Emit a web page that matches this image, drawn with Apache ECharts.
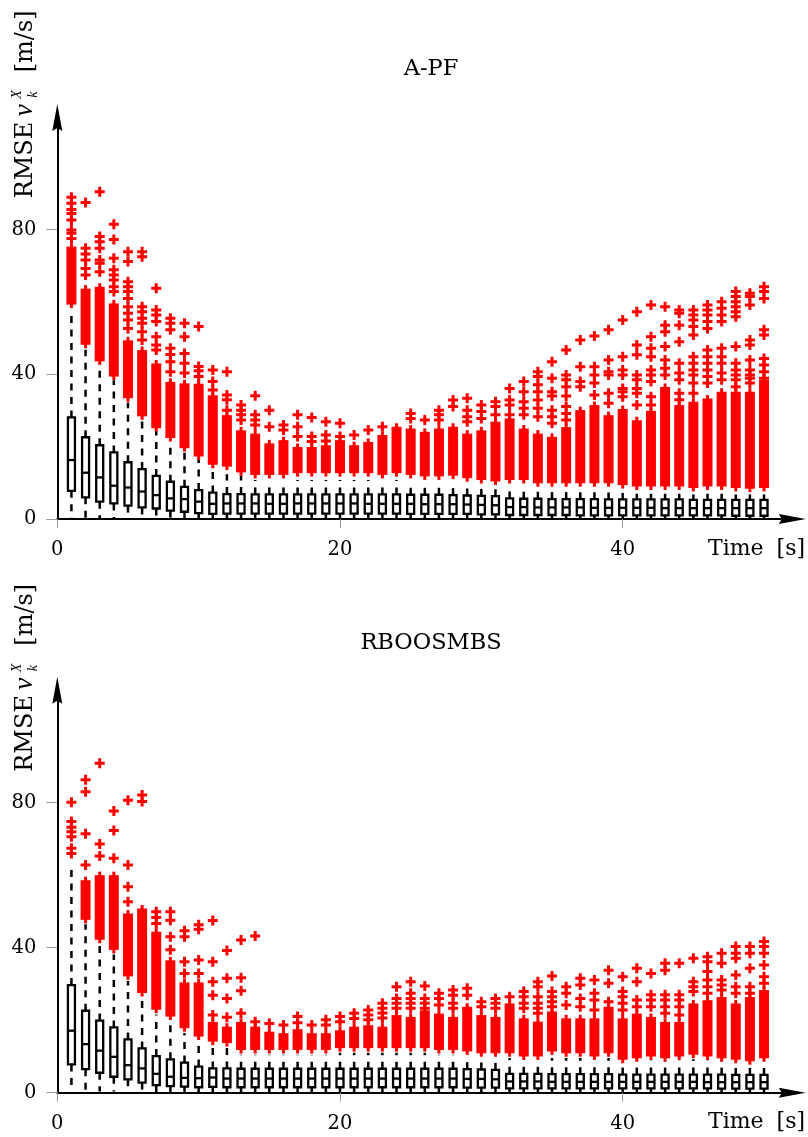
<!DOCTYPE html>
<html>
<head>
<meta charset="utf-8">
<title>RMSE v_k^X over time</title>
<script src="https://cdn.jsdelivr.net/npm/echarts@6.0.0/dist/echarts.min.js"></script>
<style>
  html, body { margin: 0; padding: 0; background: #ffffff; }
  #chart { width: 808px; height: 1137px; }
</style>
</head>
<body>
<div id="chart"></div>
<script>
// Time steps [s]
const timeSteps = [1, 2, 3, 4, 5, 6, 7, 8, 9, 10, 11, 12, 13, 14, 15, 16, 17, 18, 19, 20,
  21, 22, 23, 24, 25, 26, 27, 28, 29, 30, 31, 32, 33, 34, 35, 36, 37, 38, 39, 40,
  41, 42, 43, 44, 45, 46, 47, 48, 49, 50];
const xTicks = [0, 20, 40];
const yTicks = [0, 40, 80];
const panelTitles = ['A-PF', 'RBOOSMBS'];

// A-PF box statistics: [lower whisker, Q1, median, Q3, upper whisker]
const apfBoxes = [
  [0.3, 7.8, 16.3, 28.1, 57.5], [0.3, 6.0, 12.8, 22.6, 46.8], [0.3, 4.8, 11.5, 20.4, 42.3],
  [0.3, 4.3, 9.2, 18.4, 38.4], [0.3, 3.7, 8.7, 15.7, 32.2], [0.3, 3.2, 7.6, 13.8, 28.0],
  [0.2, 2.9, 6.6, 11.9, 24.2], [0.2, 2.3, 5.7, 10.3, 21.4], [0.2, 2.0, 5.5, 8.9, 18.6],
  [0.2, 1.6, 4.8, 8.0, 16.3], [0.2, 1.4, 4.2, 7.3, 14.0], [0.2, 1.5, 4.3, 6.9, 12.4],
  [0.2, 1.5, 4.3, 6.9, 11.9], [0.2, 1.5, 4.3, 6.8, 10.8], [0.2, 1.5, 4.2, 6.8, 10.3],
  [0.2, 1.5, 4.2, 6.8, 10.3], [0.2, 1.5, 4.3, 6.8, 10.8], [0.2, 1.5, 4.3, 6.8, 10.8],
  [0.2, 1.5, 4.3, 6.8, 10.8], [0.2, 1.5, 4.3, 6.8, 10.8], [0.2, 1.5, 4.3, 6.8, 10.8],
  [0.2, 1.5, 4.2, 6.8, 10.8], [0.2, 1.5, 4.2, 6.8, 10.3], [0.2, 1.5, 4.2, 6.8, 10.8],
  [0.2, 1.4, 4.2, 6.7, 10.3], [0.2, 1.4, 4.1, 6.7, 9.9], [0.2, 1.4, 4.1, 6.7, 9.9],
  [0.2, 1.4, 4.1, 6.6, 10.1], [0.2, 1.4, 4.0, 6.5, 9.4], [0.2, 1.3, 3.9, 6.4, 9.0],
  [0.2, 1.3, 3.8, 6.3, 8.6], [0.2, 1.1, 3.3, 5.7, 8.2], [0.2, 1.1, 3.3, 5.6, 8.0],
  [0.2, 1.1, 3.2, 5.6, 7.6], [0.2, 1.1, 3.2, 5.5, 7.6], [0.2, 1.1, 3.2, 5.5, 7.6],
  [0.2, 1.0, 3.2, 5.5, 7.4], [0.2, 1.0, 3.1, 5.5, 7.4], [0.2, 1.0, 3.1, 5.4, 7.4],
  [0.2, 1.0, 3.1, 5.4, 7.2], [0.2, 1.0, 3.1, 5.4, 7.0], [0.2, 1.0, 3.1, 5.4, 7.0],
  [0.2, 1.0, 3.0, 5.4, 7.0], [0.2, 1.0, 3.0, 5.4, 7.0], [0.2, 1.0, 3.0, 5.3, 6.8],
  [0.2, 1.0, 3.0, 5.3, 7.0], [0.2, 1.0, 3.0, 5.3, 7.0], [0.2, 0.9, 3.0, 5.3, 6.8],
  [0.2, 0.9, 3.0, 5.3, 6.8], [0.2, 0.9, 3.0, 5.3, 6.8]
];

// A-PF: range of the tightly packed outliers per step [low, high]
const apfDense = [
  [59.7, 74.9], [48.6, 63.3], [44.0, 63.8], [39.8, 59.2], [33.8, 49.0],
  [28.8, 46.3], [25.5, 42.6], [22.8, 37.5], [20.0, 37.1], [17.7, 37.0],
  [15.4, 33.8], [14.9, 28.3], [13.3, 24.1], [12.6, 23.2], [12.6, 20.5],
  [12.6, 21.4], [13.1, 19.5], [13.1, 19.5], [13.1, 20.0], [13.1, 21.4],
  [13.1, 20.0], [13.1, 20.9], [12.6, 22.8], [13.1, 25.1], [12.6, 24.6],
  [12.2, 23.7], [12.2, 24.6], [12.4, 25.1], [11.7, 23.2], [11.2, 24.1],
  [10.8, 26.5], [11.2, 27.4], [11.2, 24.6], [10.3, 23.2], [10.3, 22.3],
  [10.3, 25.0], [10.3, 29.7], [10.3, 31.1], [10.3, 28.3], [9.8, 30.0],
  [9.4, 26.9], [9.4, 29.5], [9.4, 36.1], [9.4, 31.1], [9.0, 32.0],
  [9.4, 32.9], [9.4, 34.8], [9.0, 34.8], [8.8, 34.8], [9.0, 38.0]
];

// A-PF: remaining single outliers per step
const apfOutliers = [
  [89.0, 87.3, 85.6, 84.5, 82.7, 79.9, 79.0, 77.6],
  [87.5, 74.9, 73.3, 71.6, 69.3, 67.5],
  [90.5, 78.1, 76.7, 74.9, 71.6, 70.7, 68.4],
  [81.5, 77.3, 72.1, 68.9, 67.5, 66.1, 64.2, 62.9],
  [73.9, 71.2, 65.6, 64.2, 62.9, 61.0, 58.7, 56.9, 55.0, 52.7],
  [73.9, 72.5, 58.7, 57.3, 55.5, 54.1, 51.8, 49.5],
  [63.8, 57.8, 56.4, 54.6, 50.4, 48.1, 46.7],
  [55.5, 54.1, 52.3, 47.2, 45.5, 43.5, 40.7],
  [54.1, 50.4, 45.8, 43.1, 40.4],
  [53.2, 42.2, 41.0, 39.4],
  [41.2, 38.0, 35.7],
  [40.7, 34.3, 33.0, 30.1],
  [31.5, 30.1, 28.8, 27.4],
  [34.1, 28.8, 27.4, 26.0],
  [30.1, 25.5],
  [26.0, 24.6],
  [28.8, 25.5, 22.8],
  [28.1, 22.8, 21.4],
  [26.9, 23.2, 21.6],
  [26.5, 22.8],
  [23.2],
  [24.6],
  [25.5],
  [],
  [29.2, 27.8],
  [27.4],
  [30.1, 28.8, 27.4],
  [32.9, 31.1],
  [33.4, 30.1, 28.3, 26.9],
  [31.5, 29.7, 27.8],
  [32.4, 31.1, 28.8],
  [36.1, 32.9, 31.5, 28.8],
  [38.0, 35.2, 32.4, 30.6, 28.8],
  [40.7, 39.4, 37.1, 35.2, 32.9, 30.6, 28.3],
  [43.5, 38.9, 35.2, 34.0, 30.1, 28.3, 26.5],
  [46.7, 39.8, 38.5, 36.6, 34.0, 31.1, 29.2, 27.4],
  [49.5, 42.1, 38.0, 36.6],
  [50.6, 42.1, 39.8, 37.6, 34.3],
  [52.3, 44.0, 40.7, 39.8, 34.8, 32.0],
  [55.0, 44.9, 41.2, 39.8, 36.1, 35.2, 33.8],
  [57.3, 48.1, 45.4, 39.8, 38.5, 36.1, 34.8, 31.5],
  [59.2, 50.4, 47.2, 44.9, 41.2, 39.8, 38.0, 33.8, 31.5],
  [58.7, 53.6, 51.8, 47.7, 44.0, 41.7, 39.8],
  [57.8, 56.9, 53.6, 49.0, 43.1, 40.4, 38.5, 34.8, 33.0],
  [57.8, 56.4, 55.0, 53.2, 50.9, 44.9, 43.1, 41.2, 39.8, 37.6, 34.8],
  [59.2, 57.8, 56.4, 54.6, 52.7, 46.7, 44.9, 43.1, 41.2, 39.4, 37.6],
  [60.1, 58.3, 56.4, 54.6, 47.2, 44.9, 43.1, 40.4, 38.5],
  [62.9, 61.5, 60.1, 58.7, 57.3, 55.9, 47.7, 43.1, 41.2, 39.8, 38.5, 36.6],
  [62.4, 61.5, 59.2, 49.5, 48.1, 44.0, 41.2, 39.8, 38.9, 37.6],
  [64.2, 62.9, 61.0, 52.3, 50.9, 44.4, 42.6, 40.7, 38.9]
];

// RBOOSMBS box statistics: [lower whisker, Q1, median, Q3, upper whisker]
const rboBoxes = [
  [0.3, 7.8, 17.1, 29.7, 61.9], [0.3, 6.5, 13.4, 22.6, 46.5], [0.3, 5.5, 11.6, 19.9, 40.9],
  [0.3, 4.4, 9.9, 18.0, 38.1], [0.3, 3.7, 7.6, 14.7, 30.8], [0.3, 2.8, 6.7, 12.2, 26.2],
  [0.2, 2.1, 5.2, 10.1, 21.6], [0.2, 1.8, 4.4, 9.2, 19.7], [0.2, 1.7, 4.1, 8.3, 16.5],
  [0.2, 1.5, 4.0, 7.2, 14.2], [0.2, 1.6, 4.2, 6.7, 12.8], [0.2, 1.5, 3.9, 6.7, 12.4],
  [0.2, 1.5, 3.9, 6.6, 10.5], [0.2, 1.5, 3.9, 6.6, 10.5], [0.2, 1.5, 3.9, 6.6, 10.5],
  [0.2, 1.5, 3.9, 6.6, 10.5], [0.2, 1.5, 3.9, 6.6, 10.5], [0.2, 1.5, 3.9, 6.6, 10.5],
  [0.2, 1.5, 3.9, 6.6, 10.5], [0.2, 1.5, 3.9, 6.6, 11.0], [0.2, 1.5, 3.9, 6.6, 11.0],
  [0.2, 1.5, 3.9, 6.6, 11.0], [0.2, 1.5, 3.9, 6.6, 11.0], [0.2, 1.5, 3.9, 6.6, 11.0],
  [0.2, 1.5, 3.9, 6.6, 11.0], [0.2, 1.5, 3.9, 6.6, 11.0], [0.2, 1.5, 3.9, 6.6, 10.5],
  [0.2, 1.5, 3.9, 6.6, 10.5], [0.2, 1.4, 3.8, 6.5, 10.1], [0.2, 1.4, 3.8, 6.4, 9.6],
  [0.2, 1.4, 3.7, 6.3, 9.6], [0.2, 1.2, 3.1, 5.2, 9.6], [0.2, 1.2, 3.1, 5.2, 8.8],
  [0.2, 1.2, 3.1, 5.2, 8.8], [0.2, 1.2, 3.0, 5.1, 9.6], [0.2, 1.2, 3.0, 5.1, 9.6],
  [0.2, 1.2, 3.0, 5.1, 9.6], [0.2, 1.2, 3.0, 5.1, 8.8], [0.2, 1.2, 3.0, 5.1, 9.6],
  [0.2, 1.2, 3.0, 5.0, 7.9], [0.2, 1.2, 3.0, 5.0, 8.3], [0.2, 1.2, 3.0, 5.0, 8.8],
  [0.2, 1.2, 3.0, 5.0, 8.3], [0.2, 1.2, 3.0, 5.0, 8.8], [0.2, 1.2, 3.0, 5.0, 9.2],
  [0.2, 1.2, 2.9, 5.0, 8.8], [0.2, 1.1, 2.9, 5.0, 8.3], [0.2, 1.1, 2.9, 4.9, 7.9],
  [0.2, 1.1, 2.9, 4.9, 7.6], [0.2, 1.1, 2.9, 4.9, 8.3]
];

// RBOOSMBS: range of the tightly packed outliers per step [low, high]
const rboDense = [
  null, [48.1, 58.2], [42.6, 59.6], [39.8, 59.6], [32.5, 49.0],
  [27.9, 50.4], [23.3, 44.0], [21.4, 36.1], [18.2, 30.0], [15.9, 30.0],
  [14.5, 19.1], [14.1, 17.8], [12.2, 19.1], [12.2, 17.8], [12.2, 16.4],
  [12.2, 16.0], [12.2, 17.1], [12.2, 16.0], [12.2, 16.0], [12.7, 16.8],
  [12.7, 17.8], [12.7, 18.2], [12.7, 17.8], [12.7, 21.0], [12.7, 20.5],
  [12.7, 22.3], [12.2, 21.4], [12.2, 20.5], [11.8, 23.3], [11.3, 21.0],
  [11.3, 20.5], [11.3, 24.2], [10.4, 20.1], [10.4, 19.2], [11.8, 22.0],
  [11.3, 20.1], [11.3, 20.1], [10.4, 20.1], [11.3, 23.3], [9.5, 20.1],
  [9.9, 21.4], [10.4, 20.5], [9.9, 19.1], [10.4, 19.1], [10.9, 24.2],
  [10.4, 25.1], [9.9, 26.0], [9.5, 24.2], [9.1, 26.0], [9.9, 27.9]
];

// RBOOSMBS: remaining single outliers per step
const rboOutliers = [
  [80.1, 74.8, 73.2, 72.0, 70.6, 67.4, 66.0],
  [86.3, 83.0, 71.4, 62.8],
  [90.9, 68.6, 65.3],
  [77.7, 72.3, 64.7],
  [80.7, 62.8, 56.8, 52.7],
  [82.1, 80.3],
  [49.9, 48.3, 46.7],
  [49.9, 47.6, 43.0, 39.4],
  [44.7, 43.0, 36.1, 32.9],
  [46.3, 45.1, 36.6, 32.9],
  [47.5, 36.1, 30.6, 26.9, 21.4],
  [39.2, 31.6, 26.0, 20.8],
  [42.1, 31.7, 28.1, 21.9],
  [43.2, 19.6],
  [19.1],
  [18.7],
  [21.0, 19.3],
  [18.7],
  [20.1, 18.7],
  [21.0, 19.6],
  [21.9, 20.5],
  [22.8, 21.4, 20.1],
  [24.7, 23.3, 22.0, 20.6],
  [29.2, 26.0, 24.7, 23.3],
  [30.6, 27.4, 26.0, 24.7, 23.3],
  [29.4, 26.0, 24.7, 23.3],
  [27.4, 26.0, 24.2],
  [28.3, 26.9, 24.7, 23.3],
  [28.8, 26.9],
  [25.1, 23.7],
  [26.0, 24.7, 23.3],
  [26.5],
  [27.9, 26.5, 24.7, 23.3],
  [30.6, 29.2, 26.5, 24.7, 23.3, 21.9],
  [32.2, 27.9, 26.5, 25.1, 23.7],
  [29.2, 27.4, 24.2],
  [31.6, 29.7, 26.0, 23.7],
  [31.1, 27.4, 25.6, 22.8],
  [33.8, 30.2, 25.1],
  [32.0, 27.9, 26.5, 24.7, 22.8],
  [34.3, 30.6, 25.6, 23.7],
  [32.9, 27.0, 25.6, 23.7],
  [35.7, 33.8, 27.0, 25.6, 23.7, 21.9],
  [35.7, 27.0, 25.6, 23.7, 21.4],
  [37.1, 30.6, 29.2, 27.9],
  [37.5, 36.1, 33.4, 31.1, 29.2, 27.4],
  [38.5, 35.7, 31.1, 29.7, 28.3],
  [40.3, 38.5, 37.1, 32.5, 29.2, 27.4],
  [40.3, 38.5, 34.3, 29.2, 27.4],
  [41.7, 40.3, 38.5, 35.2, 32.0, 30.2]
];

// ---- drawing ----
const RED = '#ff0000';
const SERIF = "'DejaVu Serif', 'Liberation Serif', serif";
const PLUS = 'path://M3.5,0H6.5V3.5H10V6.5H6.5V10H3.5V6.5H0V3.5H3.5Z';
const ARROW = 'path://M5,0L10,27L5,24L0,27Z';

function boxRows(boxes) {
  return timeSteps.map((t, i) => [t].concat(boxes[i]));
}
function denseRows(dense) {
  const rows = [];
  timeSteps.forEach((t, i) => { if (dense[i]) rows.push([t, dense[i][0], dense[i][1]]); });
  return rows;
}
function outlierRows(outliers) {
  const rows = [];
  timeSteps.forEach((t, i) => outliers[i].forEach(v => rows.push([t, v])));
  return rows;
}

// box with dashed whiskers
function renderBox(params, api) {
  const t = api.value(0);
  const pLow = api.coord([t, api.value(1)]);
  const x = pLow[0];
  const yLow = pLow[1];
  const yQ1 = api.coord([t, api.value(2)])[1];
  const yMed = api.coord([t, api.value(3)])[1];
  const yQ3 = api.coord([t, api.value(4)])[1];
  const yHigh = api.coord([t, api.value(5)])[1];
  const hw = 3.5;
  const dash = { stroke: '#000', lineWidth: 2.5, lineDash: [7, 6.5], fill: null };
  return {
    type: 'group',
    children: [
      { type: 'line', shape: { x1: x, y1: yQ3, x2: x, y2: yHigh }, style: dash },
      { type: 'line', shape: { x1: x, y1: yQ1, x2: x, y2: yLow }, style: dash },
      { type: 'rect', shape: { x: x - hw, y: yQ3, width: 2 * hw, height: yQ1 - yQ3 },
        style: { fill: '#fff', stroke: '#000', lineWidth: 2.3 } },
      { type: 'line', shape: { x1: x - hw, y1: yMed, x2: x + hw, y2: yMed },
        style: { stroke: '#000', lineWidth: 2.3 } }
    ]
  };
}

// column of overlapping "+" outliers between low and high
function renderDense(params, api) {
  const t = api.value(0);
  const pLo = api.coord([t, api.value(1)]);
  const pHi = api.coord([t, api.value(2)]);
  const half = 5, arm = 1.5;
  return {
    type: 'group',
    children: [
      { type: 'rect', shape: { x: pLo[0] - half, y: pHi[1] - arm, width: 2 * half, height: pLo[1] - pHi[1] + 2 * arm },
        style: { fill: RED } },
      { type: 'rect', shape: { x: pLo[0] - arm, y: pHi[1] - half, width: 2 * arm, height: pLo[1] - pHi[1] + 2 * half },
        style: { fill: RED } }
    ]
  };
}

function panelAxes(idx) {
  const x = {
    type: 'value', gridIndex: idx, min: 0, max: 52, interval: 20,
    axisLine: { show: true, onZero: false, lineStyle: { color: '#000', width: 2 },
      symbol: ['none', ARROW], symbolSize: [11, 27] },
    axisTick: { show: true, length: 9, customValues: xTicks, lineStyle: { color: '#9a9a9a', width: 1 } },
    axisLabel: { customValues: xTicks, color: '#000', fontFamily: SERIF, fontSize: 19.5, margin: 21 },
    splitLine: { show: false }
  };
  const y = {
    type: 'value', gridIndex: idx, min: 0, max: 111, interval: 40,
    axisLine: { show: true, onZero: false, lineStyle: { color: '#000', width: 2 },
      symbol: ['none', ARROW], symbolSize: [11, 27] },
    axisTick: { show: true, length: 11, customValues: yTicks, lineStyle: { color: '#9a9a9a', width: 1 } },
    axisLabel: { customValues: yTicks, color: '#000', fontFamily: SERIF, fontSize: 19.5, margin: 21 },
    splitLine: { show: false }
  };
  return { x, y };
}

function panelSeries(idx, boxes, dense, outliers) {
  return [
    { type: 'custom', xAxisIndex: idx, yAxisIndex: idx, z: 2, silent: true,
      renderItem: renderDense, data: denseRows(dense), encode: { x: 0, y: [1, 2] } },
    { type: 'scatter', xAxisIndex: idx, yAxisIndex: idx, z: 3, silent: true,
      symbol: PLUS, symbolSize: 10, itemStyle: { color: RED, opacity: 1 },
      data: outlierRows(outliers) },
    { type: 'custom', xAxisIndex: idx, yAxisIndex: idx, z: 4, silent: true,
      renderItem: renderBox, data: boxRows(boxes), encode: { x: 0, y: [1, 2, 3, 4, 5] } }
  ];
}

// y-axis title: RMSE v_k^X [m/s], rotated
function yTitle(x, y) {
  const italic = "italic 27px 'Liberation Serif', serif";
  const small = "italic 14px 'Liberation Serif', serif";
  const main = "24px 'DejaVu Serif', serif";
  return {
    type: 'group', x: x, y: y, rotation: Math.PI / 2, silent: true,
    children: [
      { type: 'text', x: 0, y: -7.1, style: { text: 'RMSE', font: main, fill: '#000', align: 'left', verticalAlign: 'middle' } },
      { type: 'text', x: 82, y: -8.2, style: { text: 'v', font: italic, fill: '#000', align: 'left', verticalAlign: 'middle' } },
      { type: 'text', x: 99.5, y: -15.6, style: { text: 'X', font: small, fill: '#000', align: 'left', verticalAlign: 'middle' } },
      { type: 'text', x: 100.5, y: 0.4, style: { text: 'k', font: small, fill: '#000', align: 'left', verticalAlign: 'middle' } },
      { type: 'text', x: 126, y: -7.1, style: { text: '[m/s]', font: main, fill: '#000', align: 'left', verticalAlign: 'middle' } }
    ]
  };
}

function titleText(text, y) {
  return { type: 'text', x: 431, y: y, silent: true,
    style: { text: text, font: "22.5px 'DejaVu Serif', serif", fill: '#000', align: 'center', verticalAlign: 'middle' } };
}
function timeLabel(y) {
  return [
    { type: 'text', x: 708, y: y, silent: true,
      style: { text: 'Time', font: "22px 'DejaVu Serif', serif", fill: '#000', align: 'left', verticalAlign: 'middle' } },
    { type: 'text', x: 805, y: y, silent: true,
      style: { text: '[s]', font: "22px 'DejaVu Serif', serif", fill: '#000', align: 'right', verticalAlign: 'middle' } }
  ];
}

const a0 = panelAxes(0);
const a1 = panelAxes(1);

const option = {
  backgroundColor: '#ffffff',
  animation: false,
  textStyle: { fontFamily: SERIF },
  grid: [
    { left: 57.3, top: 117.6, width: 735, height: 401.4 },
    { left: 57.3, top: 690.3, width: 735, height: 402.4 }
  ],
  xAxis: [a0.x, a1.x],
  yAxis: [a0.y, a1.y],
  series: panelSeries(0, apfBoxes, apfDense, apfOutliers)
    .concat(panelSeries(1, rboBoxes, rboDense, rboOutliers)),
  graphic: [
    titleText(panelTitles[0], 69.5),
    titleText(panelTitles[1], 643.2),
    yTitle(33.3, 198.3),
    yTitle(33.3, 771.7)
  ].concat(timeLabel(549)).concat(timeLabel(1122.7))
};

const chart = echarts.init(document.getElementById('chart'), null, { renderer: 'canvas' });
chart.setOption(option);
</script>
</body>
</html>
